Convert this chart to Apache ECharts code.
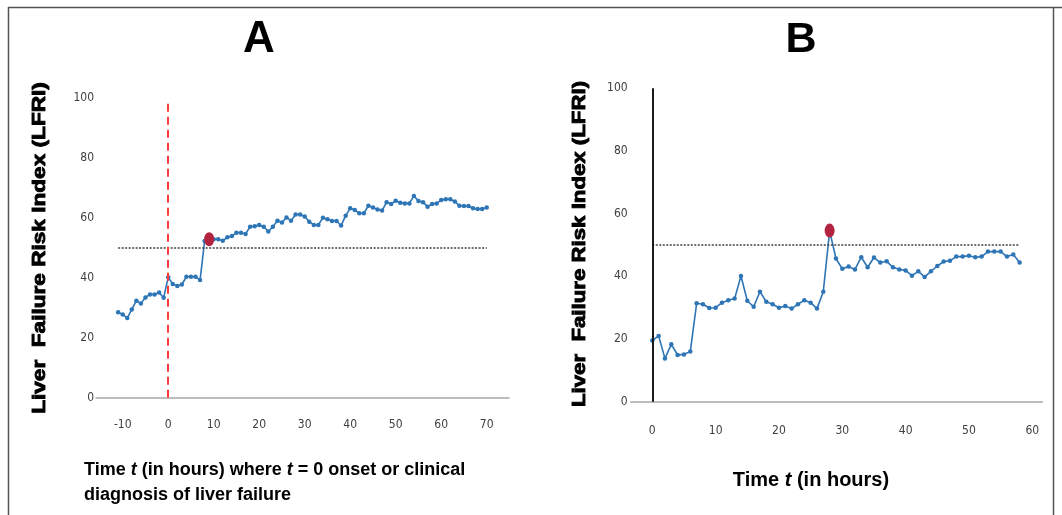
<!DOCTYPE html>
<html>
<head>
<meta charset="utf-8">
<script src="https://cdn.jsdelivr.net/npm/echarts@6/dist/echarts.min.js"></script>
<style>
html,body{margin:0;padding:0;background:#fff;}
#chart{width:1062px;height:515px;}
</style>
</head>
<body>
<div id="chart"></div>
<script>
// ---------- Panel A data ----------
const hoursA = [-11,-10,-9,-8,-7,-6,-5,-4,-3,-2,-1,0,1,2,3,4,5,6,7,8,9,10,11,12,13,14,15,16,17,18,19,20,21,22,23,24,25,26,27,28,29,30,31,32,33,34,35,36,37,38,39,40,41,42,43,44,45,46,47,48,49,50,51,52,53,54,55,56,57,58,59,60,61,62,63,64,65,66,67,68,69,70];
const lfriA = [28.5,27.8,26.6,29.5,32.4,31.5,33.5,34.5,34.5,35.1,33.4,
  40.2,38,37.3,37.8,40.4,40.4,40.4,39.3,52.3,52.9,
  52.9,52.9,52.4,53.6,54,55.1,55.1,54.7,57.1,57.3,
  57.7,57.1,55.5,57.1,59.1,58.5,60.2,59.1,61.2,61.2,
  60.5,58.8,57.7,57.7,60.1,59.6,59,59,57.5,60.8,
  63.3,62.7,61.6,61.6,64.1,63.5,62.9,62.5,65.3,64.7,
  65.8,65.1,64.9,64.9,67.4,65.7,65.3,63.8,64.7,64.9,
  66,66.3,66.3,65.5,64.1,64,64,63.3,63,63,63.5];
const alertA = [9, 52.9];
const xTicksA = [-10,0,10,20,30,40,50,60,70];
const thresholdA = 50;
const thresholdSpanA = [-11, 70];
const onsetA = 0;
const onsetTopA = 99;

// ---------- Panel B data ----------
const hoursB = [0,1,2,3,4,5,6,7,8,9,10,11,12,13,14,15,16,17,18,19,20,21,22,23,24,25,26,27,28,29,30,31,32,33,34,35,36,37,38,39,40,41,42,43,44,45,46,47,48,49,50,51,52,53,54,55,56,57,58];
const lfriB = [19.5,21,13.8,18.3,14.9,15.1,16,31.4,31.1,29.9,
  30,31.6,32.4,32.9,40.1,32.2,30.3,35.1,31.9,31.1,
  30,30.5,29.7,31.1,32.4,31.6,29.7,35.1,54.5,45.7,
  42.4,43.1,42.2,46.1,42.9,46,44.4,44.8,42.9,42.2,
  41.9,40.2,41.6,39.8,41.6,43.3,44.7,45,46.3,46.3,
  46.6,46.1,46.3,47.9,47.9,47.9,46.3,47,44.4];
const alertB = [28, 54.6];
const xTicksB = [0,10,20,30,40,50,60];
const thresholdB = 50;
const thresholdSpanB = [0, 58];
const yTicks = [0,20,40,60,80,100];

// ---------- styling ----------
const BLUE = '#2e75b6';
const RED_DOT = '#b3233f';
const TICK_FONT = "'Liberation Sans Narrow','DejaVu Sans Condensed','Liberation Sans',sans-serif";
const BOLD_FONT = "'Liberation Sans',Arial,sans-serif";

const chart = echarts.init(document.getElementById('chart'), null, {renderer:'canvas'});

function pairs(xs, ys){ return xs.map((x,i)=>[x, ys[i]]); }

const tickLabel = {color:'#404040', fontSize:12, fontFamily:TICK_FONT};

const option = {
  animation:false,
  backgroundColor:'#ffffff',
  grid:[
    {left:96, top:98.3, width:413, height:299.4},
    {left:630.7, top:88.3, width:411.6, height:313.4}
  ],
  xAxis:[
    {gridIndex:0, type:'value', min:-15.87, max:74.9,
     axisLine:{show:true, onZero:false, lineStyle:{color:'#a6a6a6', width:1.5}},
     axisTick:{show:false}, splitLine:{show:false},
     axisLabel:Object.assign({margin:21, customValues:xTicksA}, tickLabel)},
    {gridIndex:1, type:'value', min:-3.41, max:61.58,
     axisLine:{show:true, onZero:false, lineStyle:{color:'#a6a6a6', width:1.5}},
     axisTick:{show:false}, splitLine:{show:false},
     axisLabel:Object.assign({margin:23, customValues:xTicksB}, tickLabel)}
  ],
  yAxis:[
    {gridIndex:0, type:'value', min:0, max:100, interval:20,
     axisLine:{show:false}, axisTick:{show:false}, splitLine:{show:false},
     axisLabel:Object.assign({margin:2, customValues:yTicks}, tickLabel)},
    {gridIndex:1, type:'value', min:0, max:100, interval:20,
     axisLine:{show:false}, axisTick:{show:false}, splitLine:{show:false},
     axisLabel:Object.assign({margin:3, customValues:yTicks}, tickLabel)}
  ],
  series:[
    {type:'line', xAxisIndex:0, yAxisIndex:0, data:pairs(hoursA, lfriA),
     symbol:'circle', symbolSize:4.5, showAllSymbol:true,
     lineStyle:{color:BLUE, width:1.6}, itemStyle:{color:BLUE}, z:3,
     markLine:{silent:true, symbol:['none','none'], label:{show:false},
       lineStyle:{color:'#404040', width:1.5, type:[2,1.5]},
       data:[[{coord:[thresholdSpanA[0], thresholdA]},{coord:[thresholdSpanA[1], thresholdA]}]]}},
    {type:'scatter', xAxisIndex:0, yAxisIndex:0, data:[alertA],
     symbol:'circle', symbolSize:[10,14], itemStyle:{color:RED_DOT, opacity:1}, z:5,
     markLine:{silent:true, symbol:['none','none'], label:{show:false},
       lineStyle:{color:'#ff3b3b', width:2, type:[8,5]},
       data:[[{coord:[onsetA, 0]},{coord:[onsetA, onsetTopA]}]]}},
    {type:'line', xAxisIndex:1, yAxisIndex:1, data:pairs(hoursB, lfriB),
     symbol:'circle', symbolSize:4.5, showAllSymbol:true,
     lineStyle:{color:BLUE, width:1.6}, itemStyle:{color:BLUE}, z:3,
     markLine:{silent:true, symbol:['none','none'], label:{show:false},
       lineStyle:{color:'#404040', width:1.5, type:[2,1.5]},
       data:[[{coord:[thresholdSpanB[0], thresholdB]},{coord:[thresholdSpanB[1], thresholdB]}]]}},
    {type:'scatter', xAxisIndex:1, yAxisIndex:1, data:[alertB],
     symbol:'circle', symbolSize:[10,14], itemStyle:{color:RED_DOT, opacity:1}, z:5,
     markLine:{silent:true, symbol:['none','none'], label:{show:false},
       lineStyle:{color:'#1a1a1a', width:2, type:'solid'},
       data:[[{coord:[0, 0]},{coord:[0, 100]}]]}}
  ],
  graphic:[
    {type:'line', shape:{x1:8, y1:7.5, x2:1062, y2:7.5}, style:{stroke:'#555', lineWidth:1.5}, silent:true},
    {type:'line', shape:{x1:8.5, y1:7, x2:8.5, y2:515}, style:{stroke:'#555', lineWidth:1.5}, silent:true},
    {type:'line', shape:{x1:1053.5, y1:7, x2:1053.5, y2:515}, style:{stroke:'#555', lineWidth:1.5}, silent:true},
    {type:'text', x:259, y:40, style:{text:'A', fontSize:44, fontWeight:'bold', fontFamily:BOLD_FONT, fill:'#000', textAlign:'center', textVerticalAlign:'middle'}},
    {type:'text', x:801, y:40, style:{text:'B', fontSize:43, fontWeight:'bold', fontFamily:BOLD_FONT, fill:'#000', textAlign:'center', textVerticalAlign:'middle'}},
    {type:'text', x:40, y:248, rotation:Math.PI/2, scaleX:1.19,
     style:{text:'Liver  Failure Risk Index (LFRI)', fontSize:19, fontWeight:'bold', fontFamily:BOLD_FONT, fill:'#000', stroke:'#000', lineWidth:0.9, textAlign:'center', textVerticalAlign:'middle'}},
    {type:'text', x:580, y:244, rotation:Math.PI/2, scaleX:1.17,
     style:{text:'Liver  Failure Risk Index (LFRI)', fontSize:19, fontWeight:'bold', fontFamily:BOLD_FONT, fill:'#000', stroke:'#000', lineWidth:0.9, textAlign:'center', textVerticalAlign:'middle'}},
    {type:'text', x:84, y:457.5,
     style:{text:'Time {i|t} (in hours) where {i|t} = 0 onset or clinical\ndiagnosis of liver failure',
       rich:{i:{fontStyle:'italic', fontWeight:'bold', fontSize:18, fontFamily:BOLD_FONT, fill:'#000', lineHeight:25}},
       fontSize:18, lineHeight:25, fontWeight:'bold', fontFamily:BOLD_FONT, fill:'#000', textAlign:'left', textVerticalAlign:'top'}},
    {type:'text', x:811, y:480,
     style:{text:'Time {i|t} (in hours)',
       rich:{i:{fontStyle:'italic', fontWeight:'bold', fontSize:20, fontFamily:BOLD_FONT, fill:'#000'}},
       fontSize:20, fontWeight:'bold', fontFamily:BOLD_FONT, fill:'#000', textAlign:'center', textVerticalAlign:'middle'}}
  ]
};
chart.setOption(option);
</script>
</body>
</html>
